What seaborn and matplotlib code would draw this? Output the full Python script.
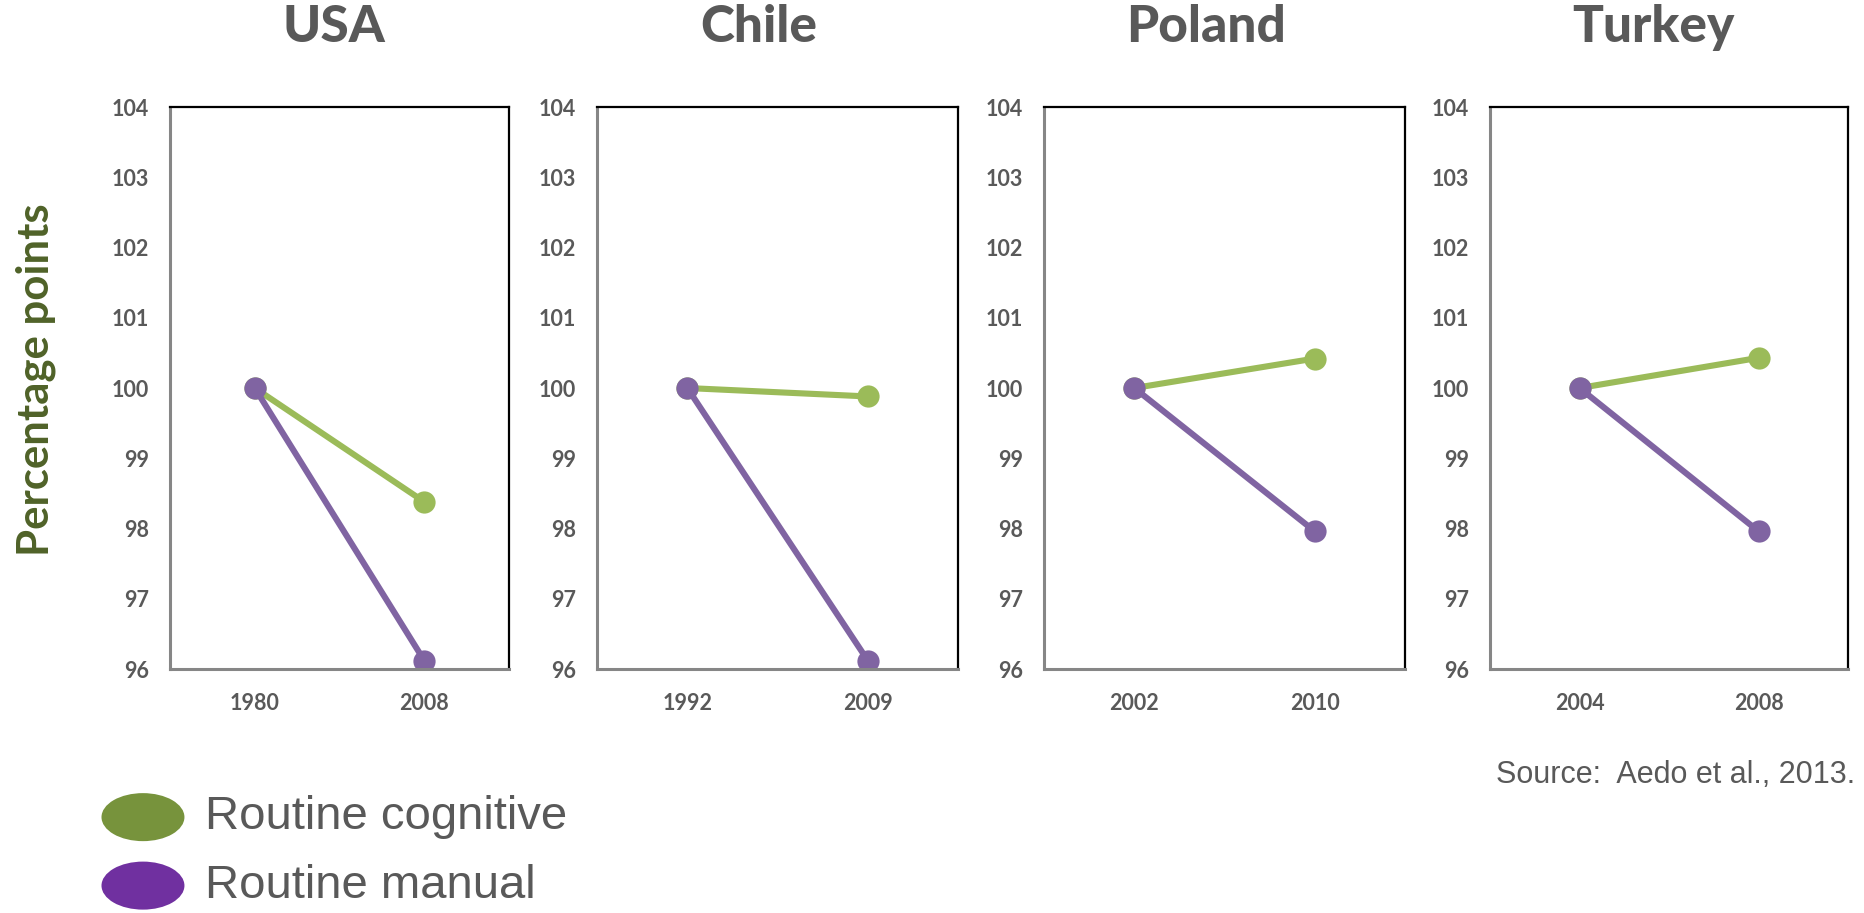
import matplotlib
matplotlib.use("Agg")
import matplotlib.pyplot as plt
from matplotlib.patches import Ellipse
import pandas as pd
import seaborn as sns

# Index of routine task intensity (base year = 100)
countries = ["USA", "Chile", "Poland", "Turkey"]
years = [["1980", "2008"], ["1992", "2009"], ["2002", "2010"], ["2004", "2008"]]
routine_cognitive = [[100, 98.38], [100, 99.88], [100, 100.42], [100, 100.43]]
routine_manual = [[100, 96.12], [100, 96.12], [100, 97.96], [100, 97.96]]
series_names = ["Routine cognitive", "Routine manual"]
y_ticks = [96, 97, 98, 99, 100, 101, 102, 103, 104]

line_colors = {"Routine cognitive": "#9bbb59", "Routine manual": "#8064a2"}
legend_colors = ["#77933c", "#7030a0"]
TEXT = "#595959"

sns.set_theme(style="white")
plt.rcParams["font.family"] = ["Lato", "DejaVu Sans"]

fig = plt.figure(figsize=(18.64, 9.13), dpi=100)

# axes rectangles in figure fractions: left, width
panel_x = [(0.0912, 0.1819), (0.3203, 0.1937), (0.5601, 0.1937), (0.7994, 0.1921)]
title_x = [0.179, 0.407, 0.647, 0.887]
bottom, height = 0.2672, 0.6156

for i, country in enumerate(countries):
    ax = fig.add_axes([panel_x[i][0], bottom, panel_x[i][1], height])
    df = pd.DataFrame({
        "year": years[i] * 2,
        "value": routine_cognitive[i] + routine_manual[i],
        "series": [series_names[0]] * 2 + [series_names[1]] * 2,
    })
    sns.pointplot(
        data=df, x="year", y="value", hue="series", order=years[i],
        hue_order=series_names, palette=line_colors, markers="o",
        markersize=16, markeredgewidth=0, linewidth=4.4,
        legend=False, ax=ax,
    )
    ax.set_xlim(-0.5, 1.5)
    ax.set_ylim(96, 104)
    ax.set_yticks(y_ticks)
    ax.set_yticklabels([str(t) for t in y_ticks])
    ax.set_xlabel("")
    ax.set_ylabel("")
    ax.tick_params(axis="both", length=0, labelsize=15.5, labelcolor=TEXT)
    ax.tick_params(axis="y", pad=15)
    ax.tick_params(axis="x", pad=17)
    for lbl in ax.get_xticklabels() + ax.get_yticklabels():
        lbl.set_fontweight("bold")
    for side in ("left", "bottom"):
        ax.spines[side].set_color("#868686")
        ax.spines[side].set_linewidth(2.2)
    for side in ("top", "right"):
        ax.spines[side].set_color("black")
        ax.spines[side].set_linewidth(1.6)
    for sp in ax.spines.values():
        sp.set_visible(True)
    fig.text(title_x[i], 0.970, country, ha="center", va="center",
             fontsize=37, fontweight="black", color=TEXT)

fig.text(0.019, 0.584, "Percentage points", rotation=90, ha="center",
         va="center", fontsize=31.5, fontweight="bold", color="#4f6228")

# legend
legend_y = [0.105, 0.030]
for name, col, ly in zip(series_names, legend_colors, legend_y):
    fig.add_artist(Ellipse((0.0767, ly), width=0.0445, height=0.0526,
                           transform=fig.transFigure, facecolor=col,
                           edgecolor="none"))
    fig.text(0.110, ly, name, ha="left", va="center", fontsize=34,
             color=TEXT, family=["Liberation Sans", "DejaVu Sans"])

fig.text(0.995, 0.151, "Source:  Aedo et al., 2013.", ha="right",
         va="center", fontsize=22, color=TEXT,
         family=["Liberation Sans", "DejaVu Sans"])

fig.savefig("out.png", dpi=100, facecolor="white")
